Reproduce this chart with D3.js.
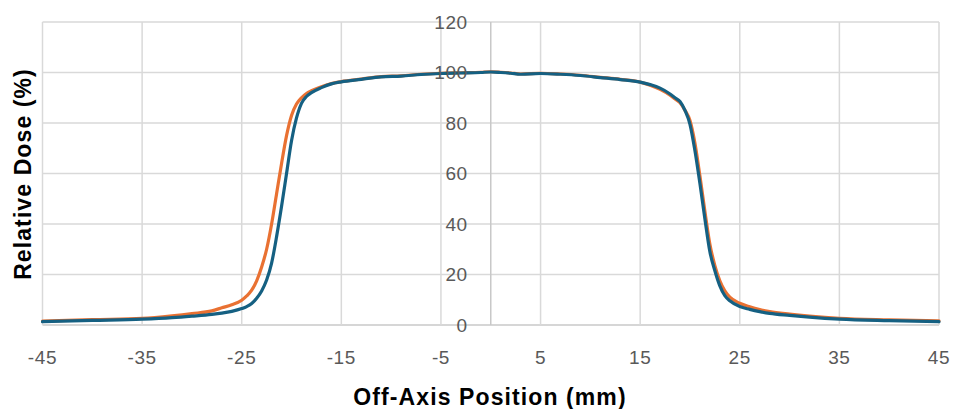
<!DOCTYPE html>
<html>
<head>
<meta charset="utf-8">
<script src="https://cdn.jsdelivr.net/npm/d3@7"></script>
<style>
  html, body { margin: 0; padding: 0; background: #fff; }
  svg { display: block; }
</style>
</head>
<body>
<svg id="chart" width="955" height="409"></svg>
<script>
// ---- Data ----
const positions = [-45, -40, -35, -32, -30, -28, -27, -26, -25, -24.5, -24, -23.5, -23, -22.5, -22, -21.5, -21, -20.5, -20, -19.5, -19, -18.5, -18, -17, -16, -15, -13, -11, -9, -7, -5, -3, -1, 0, 1, 2, 3, 5, 7, 9, 11, 13, 15, 16, 17, 18, 18.5, 19, 19.5, 20, 20.5, 21, 21.5, 22, 22.5, 23, 23.5, 24, 25, 26, 27, 28, 30, 32, 35, 40, 45];

const orangeDose = [1.5, 2.1, 2.6, 3.6, 4.5, 5.6, 6.8, 8.0, 9.8, 11.5, 13.8, 17.5, 23, 30, 40, 52, 64, 75, 83, 87.5, 90, 91.7, 92.8, 94.4, 95.6, 96.4, 97.4, 98.4, 98.7, 99.3, 99.7, 99.9, 100.1, 100.3, 100.1, 99.8, 99.4, 99.7, 99.4, 98.9, 98.1, 97.3, 96.2, 95.0, 93.3, 91.0, 89.5, 88.0, 85.0, 81.0, 72.0, 59.0, 45.0, 32.0, 23.5, 17.5, 13.5, 11.0, 8.6, 7.2, 6.1, 5.3, 4.3, 3.5, 2.6, 2.0, 1.6];

const blueDose = [1.3, 1.8, 2.3, 2.9, 3.5, 4.2, 4.7, 5.4, 6.5, 7.3, 8.5, 10.6, 13.5, 17.8, 24.5, 35, 47, 60, 73, 82, 87.8, 90.5, 92.0, 94.0, 95.5, 96.3, 97.3, 98.3, 98.6, 99.2, 99.6, 99.8, 100.0, 100.2, 100.0, 99.7, 99.3, 99.6, 99.3, 98.8, 98.0, 97.2, 96.2, 95.2, 93.8, 91.5, 90.0, 88.5, 85.0, 79.5, 69.0, 56.0, 42.0, 29.0, 21.5, 15.5, 11.6, 9.6, 7.3, 6.2, 5.3, 4.6, 3.8, 3.1, 2.3, 1.7, 1.3];

const xTicks = [-45, -35, -25, -15, -5, 5, 15, 25, 35, 45];
const yTicks = [0, 20, 40, 60, 80, 100, 120];

const xTitle = "Off-Axis Position (mm)";
const yTitle = "Relative Dose (%)";

// ---- Drawing ----
const svg = d3.select("#chart");
const x = d3.scaleLinear().domain([-45, 45]).range([42.5, 939]);
const y = d3.scaleLinear().domain([0, 120]).range([325, 22]);

const gridColor = "#d9d9d9";
const labelColor = "#595959";
const font = "'Liberation Sans', Arial, sans-serif";

// Horizontal grid lines
svg.append("g")
  .selectAll("line")
  .data(yTicks)
  .join("line")
  .attr("x1", x(-45)).attr("x2", x(45))
  .attr("y1", d => y(d)).attr("y2", d => y(d))
  .attr("stroke", d => d === 0 ? "#c8c8c8" : gridColor)
  .attr("stroke-width", 1.5);

// Vertical grid lines
svg.append("g")
  .selectAll("line")
  .data(xTicks)
  .join("line")
  .attr("x1", d => x(d)).attr("x2", d => x(d))
  .attr("y1", y(0)).attr("y2", y(120))
  .attr("stroke", gridColor)
  .attr("stroke-width", 1.5);

// Vertical axis line at x = 0
svg.append("line")
  .attr("x1", x(0)).attr("x2", x(0))
  .attr("y1", y(0)).attr("y2", y(120))
  .attr("stroke", "#c8c8c8")
  .attr("stroke-width", 1.5);

// Lines
const line = d3.line()
  .x((d, i) => x(positions[i]))
  .y(d => y(d))
  .curve(d3.curveMonotoneX);

svg.append("path")
  .datum(orangeDose)
  .attr("d", line)
  .attr("fill", "none")
  .attr("stroke", "#E97132")
  .attr("stroke-width", 3.2)
  .attr("stroke-linejoin", "round")
  .attr("stroke-linecap", "round");

svg.append("path")
  .datum(blueDose)
  .attr("d", line)
  .attr("fill", "none")
  .attr("stroke", "#156082")
  .attr("stroke-width", 3.2)
  .attr("stroke-linejoin", "round")
  .attr("stroke-linecap", "round");

// Y tick labels (at the x = 0 axis)
svg.append("g")
  .selectAll("text")
  .data(yTicks)
  .join("text")
  .attr("x", x(0) - 23)
  .attr("y", d => y(d))
  .attr("dy", "0.35em")
  .attr("text-anchor", "end")
  .attr("font-family", font)
  .attr("font-size", 19)
  .attr("letter-spacing", 0.6)
  .attr("fill", labelColor)
  .text(d => d);

// X tick labels
svg.append("g")
  .selectAll("text")
  .data(xTicks)
  .join("text")
  .attr("x", d => x(d))
  .attr("y", 357)
  .attr("dy", "0.35em")
  .attr("text-anchor", "middle")
  .attr("font-family", font)
  .attr("font-size", 19)
  .attr("letter-spacing", 0.6)
  .attr("fill", labelColor)
  .text(d => d);

// Axis titles
svg.append("text")
  .attr("x", 490)
  .attr("y", 397)
  .attr("dy", "0.35em")
  .attr("text-anchor", "middle")
  .attr("font-family", font)
  .attr("font-weight", "bold")
  .attr("font-size", 23)
  .attr("letter-spacing", 1.1)
  .attr("fill", "#000")
  .text(xTitle);

svg.append("text")
  .attr("transform", "translate(23,174) rotate(-90)")
  .attr("dy", "0.35em")
  .attr("text-anchor", "middle")
  .attr("font-family", font)
  .attr("font-weight", "bold")
  .attr("font-size", 23)
  .attr("letter-spacing", 1.1)
  .attr("fill", "#000")
  .text(yTitle);
</script>
</body>
</html>
